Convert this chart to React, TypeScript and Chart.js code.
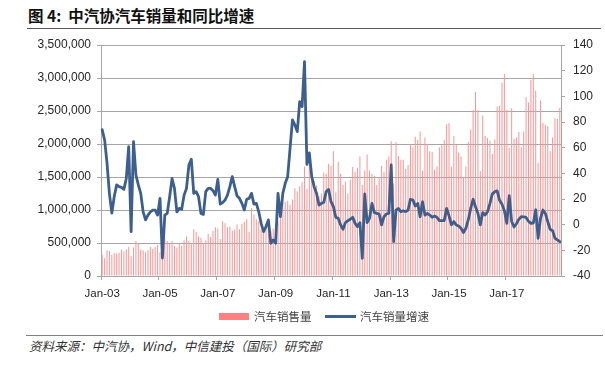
import React, { useEffect, useRef } from 'react';
import { Chart, registerables } from 'chart.js';

Chart.register(...registerables);

// ---- data ----
const MONTH_NAMES = ['Jan', 'Feb', 'Mar', 'Apr', 'May', 'Jun', 'Jul', 'Aug', 'Sep', 'Oct', 'Nov', 'Dec'];
const FIRST_YEAR = 2003;
const LAST_YEAR = 2018;
const LAST_MONTH_INDEX = 10; // Nov-18

const TICK_LABELS = ['Jan-03', 'Jan-05', 'Jan-07', 'Jan-09', 'Jan-11', 'Jan-13', 'Jan-15', 'Jan-17'];

const CATEGORIES: string[] = [];
for (let y = FIRST_YEAR; y <= LAST_YEAR; y++) {
  for (let m = 0; m < 12; m++) {
    if (y === LAST_YEAR && m > LAST_MONTH_INDEX) break;
    CATEGORIES.push(`${MONTH_NAMES[m]}-${String(y % 100).padStart(2, '0')}`);
  }
}

// 汽车销售量 (units), monthly
const SALES_2003 = [320000, 270000, 390000, 380000, 320000, 350000, 340000, 350000, 400000, 370000, 400000, 440000];
const SALES_2004 = [300000, 430000, 530000, 490000, 400000, 390000, 360000, 390000, 440000, 410000, 440000, 470000];
const SALES_2005 = [360000, 320000, 570000, 530000, 490000, 530000, 460000, 430000, 500000, 460000, 540000, 600000];
const SALES_2006 = [530000, 480000, 710000, 670000, 600000, 580000, 500000, 540000, 640000, 590000, 680000, 740000];
const SALES_2007 = [720000, 560000, 830000, 800000, 740000, 750000, 690000, 700000, 780000, 710000, 790000, 820000];
const SALES_2008 = [860000, 670000, 1030000, 930000, 860000, 830000, 700000, 660000, 770000, 740000, 680000, 720000];
const SALES_2009 = [740000, 830000, 1110000, 1150000, 1120000, 1140000, 1080000, 1160000, 1330000, 1280000, 1360000, 1420000];
const SALES_2010 = [1660000, 1320000, 1740000, 1550000, 1440000, 1370000, 1210000, 1250000, 1570000, 1550000, 1700000, 1670000];
const SALES_2011 = [1890000, 1270000, 1730000, 1550000, 1380000, 1430000, 1250000, 1460000, 1650000, 1580000, 1640000, 1810000];
const SALES_2012 = [1380000, 1600000, 1840000, 1600000, 1550000, 1520000, 1380000, 1480000, 1670000, 1580000, 1760000, 1810000];
const SALES_2013 = [2040000, 1400000, 2030000, 1820000, 1760000, 1760000, 1620000, 1680000, 2000000, 1950000, 2110000, 2060000];
const SALES_2014 = [2190000, 1600000, 2100000, 2000000, 1890000, 1880000, 1610000, 1660000, 1950000, 1980000, 2060000, 2300000];
const SALES_2015 = [2320000, 1660000, 2120000, 1990000, 1870000, 1810000, 1500000, 1660000, 2030000, 2220000, 2510000, 2790000];
const SALES_2016 = [2510000, 1590000, 2430000, 2120000, 2090000, 2050000, 1850000, 2070000, 2570000, 2580000, 2930000, 3060000];
const SALES_2017 = [2520000, 1940000, 2540000, 2080000, 2100000, 2180000, 1950000, 2190000, 2710000, 2630000, 2970000, 3060000];
const SALES_2018 = [2810000, 1720000, 2660000, 2320000, 2290000, 2270000, 1890000, 2100000, 2390000, 2380000, 2550000];

const SALES = [
  ...SALES_2003, ...SALES_2004, ...SALES_2005, ...SALES_2006, ...SALES_2007, ...SALES_2008,
  ...SALES_2009, ...SALES_2010, ...SALES_2011, ...SALES_2012, ...SALES_2013, ...SALES_2014,
  ...SALES_2015, ...SALES_2016, ...SALES_2017, ...SALES_2018,
];

// 汽车销量增速 (%, yoy), monthly
const GROWTH_2003 = [74, 66, 48, 24, 9, 22, 31, 29.6, 29, 27.5, 36, 60.8];
const GROWTH_2004 = [-5.4, 64.7, 38.7, 31, 24.4, 10, 3.7, 7.5, 10, 11.4, 11.4, 7.5];
const GROWTH_2005 = [20.5, -26, 7.5, 8.8, 21.8, 36, 28.3, 10, 12.7, 12, 23, 28.3];
const GROWTH_2006 = [46.5, 51, 24.4, 25.7, 21.8, 8.8, 8, 25.7, 28.3, 28.3, 26.5, 23];
const GROWTH_2007 = [35.3, 16, 17.2, 19.2, 23, 29.6, 37.4, 29.6, 22.4, 20.5, 16.6, 11.4];
const GROWTH_2008 = [19.8, 20.5, 24.4, 16, 16.6, 10, 1, -5.4, -1.5, 3.7, -14.5, -11.9];
const GROWTH_2009 = [-14.5, 24.4, 6.2, 24.4, 32.2, 37.4, 59.5, 81.6, 77.7, 72.5, 95.9, 92];
const GROWTH_2010 = [127, 47, 56, 37.4, 29.6, 24.4, 15.3, 16.6, 17.4, 25.7, 27.5, 17.9];
const GROWTH_2011 = [14, 5.7, 5, -0.2, -3.6, 1.6, 3.1, 4.2, 5.7, 1, -1.5, 1.6];
const GROWTH_2012 = [-26.2, 23.9, 1.6, 5, 16.6, 9.4, 8.8, 8.3, -0.2, 6.2, 8.3, 8.8];
const GROWTH_2013 = [46.5, -13.2, 11.4, 12.7, 10.1, 10.9, 10.1, 11.4, 19.8, 19.2, 14.6, 16.6];
const GROWTH_2014 = [6.2, 17.9, 7.5, 8.8, 7.5, 5.7, 6.8, 5.7, 3.1, 3.1, 3.1, 12.7];
const GROWTH_2015 = [6.8, -0.2, 2.4, -0.2, -1, -2.8, -6.2, -2.8, 3.7, 12.7, 19.8, 14];
const GROWTH_2016 = [8.8, -0.2, 9.4, 7.5, 10.1, 16.6, 24, 25.7, 26.3, 19, 16, 10.8];
const GROWTH_2017 = [1, 22.7, 2.5, -1.8, 0.7, 4.3, 6.2, 6, 5.6, 2.7, 1, 1.3];
const GROWTH_2018 = [11.7, -10.6, 5, 11.4, 8.8, 2.3, -3.6, -4.7, -10.6, -11.9, -13.2];

const GROWTH = [
  ...GROWTH_2003, ...GROWTH_2004, ...GROWTH_2005, ...GROWTH_2006, ...GROWTH_2007, ...GROWTH_2008,
  ...GROWTH_2009, ...GROWTH_2010, ...GROWTH_2011, ...GROWTH_2012, ...GROWTH_2013, ...GROWTH_2014,
  ...GROWTH_2015, ...GROWTH_2016, ...GROWTH_2017, ...GROWTH_2018,
];

const SERIES_BAR = '汽车销售量';
const SERIES_LINE = '汽车销量增速';
const TITLE = '图 4:  中汽协汽车销量和同比增速';
const SOURCE = '资料来源：中汽协，Wind，中信建投（国际）研究部';

// ---- styles ----
const BAR_COLOR = '#FF9494';
const LEGEND_BAR_COLOR = '#FF8080';
const LINE_COLOR = '#3D5F8E';
const GRID = '#A6A6A6';
const TEXT = '#262626';
const LATIN = "'Liberation Sans', Arial, sans-serif";
const CJK = "'Noto Sans CJK SC', 'Liberation Sans', sans-serif";

export default function App() {
  const ref = useRef<HTMLCanvasElement>(null);

  useEffect(() => {
    if (!ref.current) return;
    const chart = new Chart(ref.current, {
      type: 'bar',
      data: {
        labels: CATEGORIES,
        datasets: [
          {
            type: 'bar',
            label: SERIES_BAR,
            data: SALES,
            backgroundColor: BAR_COLOR,
            yAxisID: 'y',
            order: 2,
            barPercentage: 0.42,
            categoryPercentage: 1,
          } as any,
          {
            type: 'line',
            label: SERIES_LINE,
            data: GROWTH,
            borderColor: LINE_COLOR,
            backgroundColor: LINE_COLOR,
            borderWidth: 2.8,
            pointRadius: 0,
            tension: 0,
            yAxisID: 'y1',
            order: 1,
            borderJoinStyle: 'round',
            borderCapStyle: 'round',
          } as any,
        ],
      },
      options: {
        animation: false,
        responsive: false,
        devicePixelRatio: 1,
        layout: { padding: { top: 45, left: 0, right: 0, bottom: 0 } },
        plugins: { legend: { display: false }, tooltip: { enabled: false } },
        scales: {
          x: {
            type: 'category',
            offset: true,
            grid: {
              offset: true,
              drawOnChartArea: false,
              tickLength: 4,
              color: (ctx: any) =>
                ctx.tick && TICK_LABELS.includes(CATEGORIES[ctx.index]) ? GRID : 'rgba(0,0,0,0)',
            },
            border: { display: true, color: GRID },
            ticks: {
              autoSkip: false,
              maxRotation: 0,
              minRotation: 0,
              padding: 7,
              color: TEXT,
              font: { family: LATIN, size: 11.5 },
              callback: (_v: any, i: number) => (TICK_LABELS.includes(CATEGORIES[i]) ? CATEGORIES[i] : ''),
            },
            afterFit: (s: any) => {
              s.height = 34;
            },
          },
          y: {
            position: 'left',
            min: 0,
            max: 3500000,
            grid: { color: GRID, tickLength: 4 },
            border: { display: true, color: GRID },
            ticks: {
              stepSize: 500000,
              padding: 6,
              color: TEXT,
              font: { family: LATIN, size: 12 },
              callback: (v: any) => Number(v).toLocaleString('en-US'),
            },
            afterFit: (s: any) => {
              s.width = 101;
            },
          },
          y1: {
            position: 'right',
            min: -40,
            max: 140,
            grid: { drawOnChartArea: false, color: GRID, tickLength: 4 },
            border: { display: true, color: GRID },
            ticks: {
              stepSize: 20,
              padding: 8,
              color: TEXT,
              font: { family: LATIN, size: 12 },
            },
            afterFit: (s: any) => {
              s.width = 44;
            },
          },
        },
      } as any,
    });
    return () => chart.destroy();
  }, []);

  return (
    <div style={{ position: 'absolute', left: 0, top: 0, width: 605, height: 367, background: '#fff', overflow: 'hidden' }}>
      <div
        style={{
          position: 'absolute',
          left: 28,
          top: 5,
          lineHeight: '20px',
          fontFamily: CJK,
          fontSize: 15.5,
          fontWeight: 'bold',
          color: '#111',
          whiteSpace: 'pre',
        }}
      >
        {TITLE}
      </div>
      <div style={{ position: 'absolute', left: 27, top: 28, width: 574, height: 1, background: '#555' }} />
      <canvas ref={ref} width={605} height={310} style={{ position: 'absolute', left: 0, top: 0, width: 605, height: 310 }} />
      {/* legend */}
      <div style={{ position: 'absolute', left: 219, top: 313, width: 30, height: 7, background: LEGEND_BAR_COLOR }} />
      <div
        style={{
          position: 'absolute',
          left: 254,
          top: 307,
          lineHeight: '18px',
          fontFamily: CJK,
          fontSize: 11.5,
          color: '#404040',
          whiteSpace: 'nowrap',
        }}
      >
        {SERIES_BAR}
      </div>
      <div style={{ position: 'absolute', left: 325, top: 315, width: 31, height: 3, background: LINE_COLOR }} />
      <div
        style={{
          position: 'absolute',
          left: 360,
          top: 307,
          lineHeight: '18px',
          fontFamily: CJK,
          fontSize: 11.5,
          color: '#404040',
          whiteSpace: 'nowrap',
        }}
      >
        {SERIES_LINE}
      </div>
      <div style={{ position: 'absolute', left: 26, top: 335, width: 577, height: 1, background: '#808080' }} />
      <div
        style={{
          position: 'absolute',
          left: 29,
          top: 337,
          lineHeight: '18px',
          fontFamily: CJK,
          fontSize: 12.5,
          fontStyle: 'italic',
          color: '#333',
          whiteSpace: 'nowrap',
        }}
      >
        {SOURCE}
      </div>
    </div>
  );
}
